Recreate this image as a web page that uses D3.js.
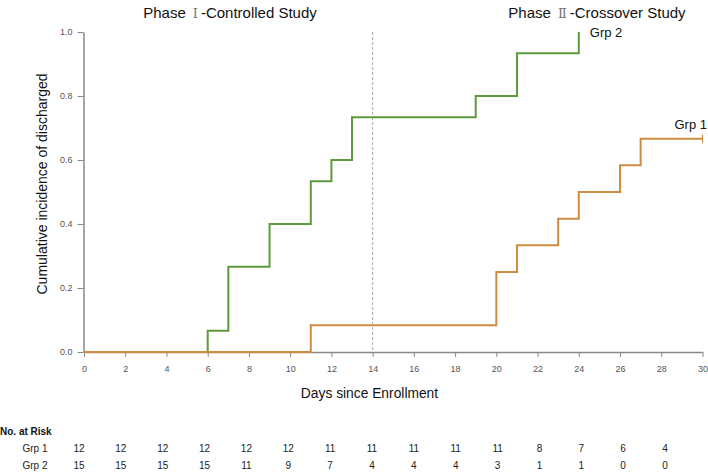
<!DOCTYPE html>
<html><head><meta charset="utf-8">
<script src="https://cdn.jsdelivr.net/npm/d3@7"></script>
<style>body{margin:0;background:#fff}svg{display:block;font-family:"Liberation Sans",Arial,sans-serif}</style>
</head><body><svg id="c" width="708" height="472"></svg>
<script>
// Step data: [day, cumulative incidence]
const grp2Times = [0, 6, 7, 9, 11, 12, 13, 19, 21, 24];
const grp2Values = [0, 1/15, 4/15, 6/15, 8/15, 9/15, 11/15, 12/15, 14/15, 1.0];
const grp2End = 24;
const grp1Times = [0, 11, 20, 21, 23, 24, 26, 27];
const grp1Values = [0, 1/12, 3/12, 4/12, 5/12, 6/12, 7/12, 8/12];
const grp1End = 30;
const xTicks = [0,2,4,6,8,10,12,14,16,18,20,22,24,26,28,30];
const yTicks = [0.0,0.2,0.4,0.6,0.8,1.0];
const riskTimes = [0,2,4,6,8,10,12,14,16,18,20,22,24,26,28];
const riskGrp1 = [12,12,12,12,12,12,11,11,11,11,11,8,7,6,4];
const riskGrp2 = [15,15,15,15,11,9,7,4,4,4,3,1,1,0,0];
const phaseLine = 14;

const svg = d3.select("#c");
const x = d3.scaleLinear().domain([0,30]).range([84,702.5]);
const y = d3.scaleLinear().domain([0,1]).range([352,32]);
const green = "#5c9a3b", orange = "#d08c3e";

// axes
const xAxis = svg.append("g").attr("transform","translate(0,352)")
  .call(d3.axisBottom(x).tickValues(xTicks).tickFormat(d3.format("d")).tickSize(5).tickSizeOuter(0));
const yAxis = svg.append("g").attr("transform","translate(83.5,0)")
  .call(d3.axisLeft(y).tickValues(yTicks).tickFormat(d3.format(".1f")).tickSize(6).tickSizeOuter(0));
[xAxis,yAxis].forEach(g=>{
  g.select(".domain").attr("stroke","#888").attr("stroke-width",1.5);
  g.selectAll(".tick line").attr("stroke","#888");
  g.selectAll(".tick text").attr("fill","#555").style("font-size","9px").style("font-family","Liberation Sans, Arial, sans-serif");
});
xAxis.selectAll(".tick text").attr("dy","1.35em");
yAxis.selectAll(".tick text").attr("dx","-2");

// dashed phase line
svg.append("line").attr("x1",x(phaseLine)).attr("x2",x(phaseLine)).attr("y1",y(1)).attr("y2",y(0))
  .attr("stroke","#aaa").attr("stroke-dasharray","3,2").attr("stroke-width",1);

const line = d3.line().x(d=>x(d[0])).y(d=>y(d[1])).curve(d3.curveStepAfter);
const pts2 = grp2Times.map((t,i)=>[t,grp2Values[i]]); pts2.push([grp2End, grp2Values[grp2Values.length-1]]);
const pts1 = grp1Times.map((t,i)=>[t,grp1Values[i]]); pts1.push([grp1End, grp1Values[grp1Values.length-1]]);
svg.append("path").attr("d",line(pts2)).attr("fill","none").attr("stroke",green).attr("stroke-width",2);
svg.append("path").attr("d",line(pts1)).attr("fill","none").attr("stroke",orange).attr("stroke-width",2);
// censor tick at end of grp1
svg.append("line").attr("x1",x(grp1End)).attr("x2",x(grp1End))
  .attr("y1",y(grp1Values[grp1Values.length-1])-4).attr("y2",y(grp1Values[grp1Values.length-1])+4)
  .attr("stroke",orange).attr("stroke-width",1.2);

// labels
svg.append("text").attr("x",x(grp2End)+11).attr("y",y(1)+5).text("Grp 2").style("font-size","13px").attr("fill","#111");
svg.append("text").attr("x",x(grp1End)-28).attr("y",y(grp1Values[grp1Values.length-1])-10).text("Grp 1").style("font-size","13px").attr("fill","#111");

function title(cx, numeral, rest){
  const t = svg.append("text").attr("x",cx).attr("y",18).attr("text-anchor","middle").style("font-size","15px").attr("fill","#111");
  t.append("tspan").text("Phase");
  t.append("tspan").attr("dx",7).style("font-family","'DejaVu Serif'").style("font-size","13px").attr("fill","#777").text(numeral);
  t.append("tspan").attr("dx",3).text(rest);
}
title(230, "Ⅰ", "-Controlled Study");
title(597, "Ⅱ", "-Crossover Study");

svg.append("text").attr("transform","translate(47,184) rotate(-90)").attr("text-anchor","middle").style("font-size","14px").attr("fill","#111").text("Cumulative incidence of discharged");
svg.append("text").attr("x",369.5).attr("y",398).attr("text-anchor","middle").style("font-size","13.8px").attr("fill","#111").text("Days since Enrollment");

// risk table
const xr = d3.scaleLinear().domain([0,28]).range([79,665]);
svg.append("text").attr("x",0).attr("y",435).style("font-size","10px").style("font-weight","bold").attr("fill","#111").text("No. at Risk");
svg.append("text").attr("x",35).attr("y",452).attr("text-anchor","middle").style("font-size","10px").attr("fill","#222").text("Grp 1");
svg.append("text").attr("x",35).attr("y",469).attr("text-anchor","middle").style("font-size","10px").attr("fill","#222").text("Grp 2");
svg.selectAll("text.r1").data(riskTimes).enter().append("text").attr("class","r1")
  .attr("x",d=>xr(d)).attr("y",452).attr("text-anchor","middle").style("font-size","10px").attr("fill","#222").text((d,i)=>riskGrp1[i]);
svg.selectAll("text.r2").data(riskTimes).enter().append("text").attr("class","r2")
  .attr("x",d=>xr(d)).attr("y",469).attr("text-anchor","middle").style("font-size","10px").attr("fill","#222").text((d,i)=>riskGrp2[i]);
</script></body></html>
